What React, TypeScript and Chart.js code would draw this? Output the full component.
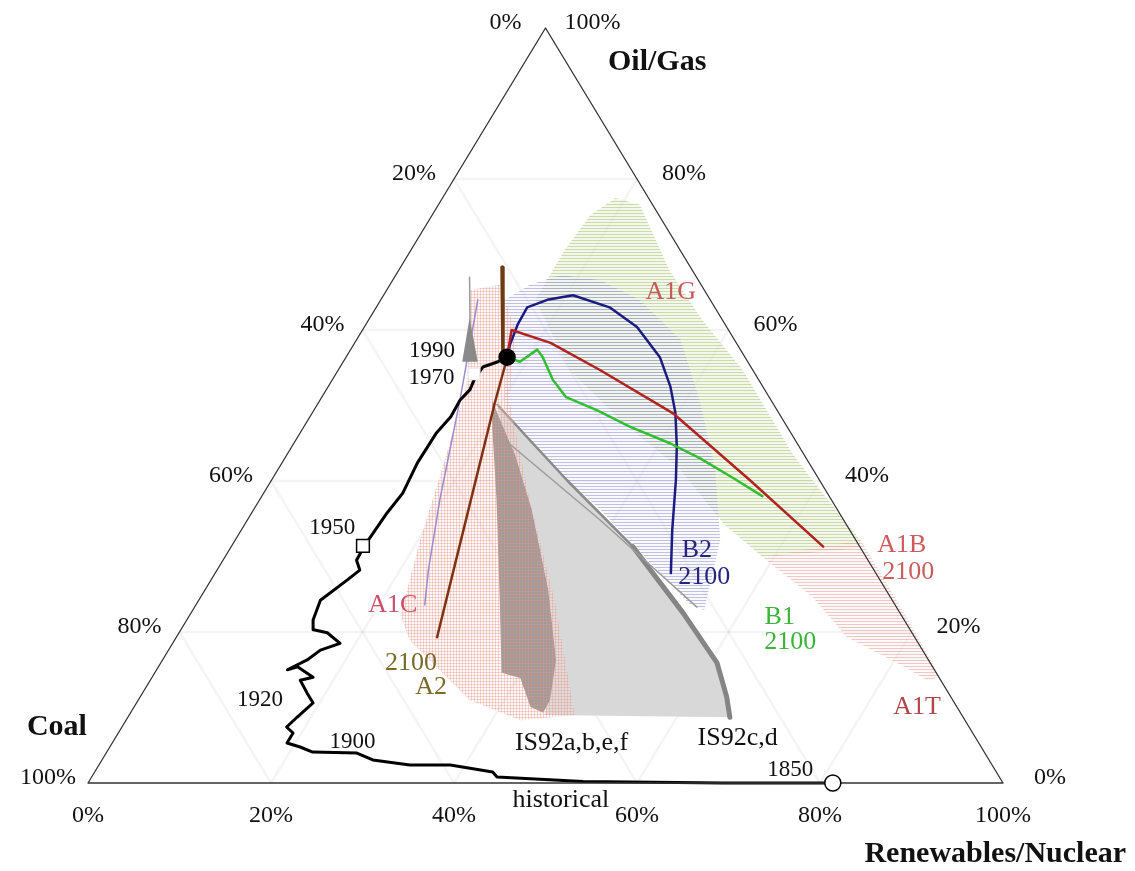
import { useEffect, useRef } from "react";
import { Chart, registerables } from "chart.js";

Chart.register(...registerables);

// Every point is [oil/gas %, renewables/nuclear %]; coal = 100 - both.
type Pair = [number, number];

const axisTicks = [0, 20, 40, 60, 80, 100];
const gridTicks = [20, 40, 60, 80];

const historical: Pair[] = [
  [0, 81.4], [0, 69.4], [0.2, 54.0], [0.8, 44.3], [1.46, 43.5], [2.38, 38.4], [2.38, 34.0],
  [3.05, 29.6], [3.97, 27.4], [4.1, 22.5], [4.77, 20.8], [5.3, 19.1], [6.62, 19.1], [7.42, 18.0],
  [8.74, 18.5], [10.6, 19.3], [11.9, 18.0], [13.6, 16.4], [14.0, 17.6], [15.4, 15.2], [15.0, 14.3],
  [16.3, 15.8], [17.6, 16.6], [18.5, 18.3], [19.9, 16.2], [20.3, 14.5], [21.6, 13.8], [24.2, 13.3],
  [26.9, 14.9], [28.2, 15.6], [29.5, 14.6], [31.3, 14.5], [35.8, 14.8], [38.4, 15.2], [42.4, 14.8],
  [46.4, 14.9], [48.5, 15.4], [50.7, 15.3], [52.1, 15.7], [53.4, 15.5], [55.1, 15.6], [55.8, 16.9],
  [56.4, 17.6],
];
const mark1850: Pair = [0, 81.4];
const mark1950: Pair = [31.4, 14.35];
const mark1970: Pair = [54.2, 15.1];
const mark1990: Pair = [56.4, 17.6];

const a1bPath: Pair[] = [[56.4, 17.6], [60.0, 16.3], [58.3, 21.4], [54.7, 28.6], [49.0, 39.4], [40.1, 52.3], [31.3, 64.7]];
const b2Path: Pair[] = [
  [56.4, 17.6], [58.0, 17.1], [60.7, 16.6], [63.0, 16.5], [64.0, 18.2], [64.6, 20.7], [63.0, 25.5],
  [60.4, 29.8], [56.4, 34.3], [52.5, 37.4], [49.0, 39.7], [44.5, 42.1], [40.1, 44.2], [33.5, 47.1], [27.8, 49.8],
];
const b1Path: Pair[] = [
  [56.4, 17.6], [55.8, 19.3], [57.4, 20.4], [56.4, 21.5], [53.4, 24.1], [51.1, 26.7], [49.4, 30.9],
  [47.2, 35.6], [45.0, 41.1], [43.0, 45.4], [40.4, 50.3], [38.0, 54.7],
];
const a2Path: Pair[] = [[55.4, 17.9], [50.3, 19.3], [33.1, 24.4], [19.3, 28.5]];
const brownStem: Pair[] = [[68.3, 11.1], [56.7, 17.0]];
const grayStem: Pair[] = [[67.0, 8.2], [60.9, 11.3]];
const grayTip: Pair[] = [[55.8, 13.0], [61.6, 10.9], [55.8, 14.7]];
const a1cEdge: Pair[] = [[64.0, 10.6], [50.7, 15.3], [37.5, 19.7], [28.2, 23.1], [23.6, 25.0]];
const is92Thin: Pair[] = [[45.4, 22.9], [34.8, 38.6], [23.3, 54.9]];
const is92EdgeUpper: Pair[] = [[50.1, 19.7], [45.4, 25.6], [40.1, 32.3], [31.3, 43.9]];
const is92EdgeLower: Pair[] = [[31.3, 43.9], [22.5, 53.8], [15.9, 60.8], [11.4, 64.1], [8.7, 65.8]];

const is92cdArea: Pair[] = [
  [50.1, 19.7], [45.4, 25.6], [40.1, 32.3], [31.3, 43.9], [22.5, 53.8], [15.9, 60.8], [11.4, 64.1], [8.7, 65.8],
  [9.0, 45.4], [16.3, 43.0], [25.6, 37.5], [36.2, 30.4], [43.4, 25.0], [48.1, 21.0],
];
const is92abefArea: Pair[] = [
  [50.7, 18.8], [48.1, 21.0], [43.4, 25.0], [36.2, 30.4], [25.6, 37.5], [16.3, 43.0], [11.0, 45.0],
  [9.3, 45.1], [10.1, 43.3], [13.9, 40.3], [14.6, 37.9], [24.2, 32.9], [37.5, 25.9], [46.8, 20.8],
];
const a1gArea: Pair[] = [
  [70.6, 16.8], [75.2, 17.3], [77.5, 18.9], [76.6, 22.0], [67.9, 29.6], [61.3, 36.5], [54.7, 44.2],
  [43.7, 55.1], [38.8, 60.6], [32.2, 68.3], [31.1, 68.8], [29.9, 58.8], [34.4, 52.2], [41.5, 44.0],
  [48.1, 34.1], [54.7, 25.3], [64.0, 16.9],
];
const a1tArea: Pair[] = [
  [32.2, 68.3], [27.8, 72.7], [20.3, 80.1], [14.0, 86.1], [13.6, 84.9], [15.9, 80.5], [19.3, 73.3],
  [24.6, 66.9], [29.9, 58.8],
];
const bArea: Pair[] = [
  [64.0, 13.6], [66.0, 15.3], [67.3, 18.0], [66.6, 22.7], [64.0, 28.3], [58.7, 35.4], [50.7, 41.5],
  [41.5, 47.8], [32.2, 53.0], [22.9, 55.9], [23.6, 54.0], [36.2, 37.9], [43.4, 27.7], [49.4, 20.9],
];
const a2Area: Pair[] = [
  [65.3, 9.1], [66.0, 12.0], [60.0, 16.7], [50.7, 20.7], [37.5, 29.5], [24.2, 38.9], [9.0, 48.7],
  [8.3, 43.1], [11.0, 36.2], [18.9, 25.7], [22.3, 23.0], [32.2, 20.2], [42.8, 17.6], [52.1, 15.2], [58.7, 12.4],
];

const yearLabels: { text: string; at: Pair }[] = [
  { text: "1990", at: [57.2, 9.0] },
  { text: "1970", at: [53.6, 10.75] },
  { text: "1950", at: [33.8, 9.8] },
  { text: "1920", at: [11.0, 13.3] },
  { text: "1900", at: [5.4, 26.2] },
  { text: "1850", at: [1.7, 75.9] },
];
const scenarioLabels: { text: string; at: Pair; color: string }[] = [
  { text: "A1G", at: [65.0, 31.2], color: "#c65a5a" },
  { text: "A1B", at: [31.5, 73.2], color: "#cc5c5c" },
  { text: "2100", at: [27.9, 75.7], color: "#cc5c5c" },
  { text: "B2", at: [30.9, 51.1], color: "#25257e" },
  { text: "2100", at: [27.3, 53.7], color: "#25257e" },
  { text: "B1", at: [22.0, 64.6], color: "#3cb43c" },
  { text: "2100", at: [18.7, 67.4], color: "#3cb43c" },
  { text: "A1T", at: [10.1, 85.55], color: "#b04848" },
  { text: "A1C", at: [23.6, 21.5], color: "#c8506a" },
  { text: "2100", at: [15.9, 27.35], color: "#7a6a2a" },
  { text: "A2", at: [12.7, 31.15], color: "#7a6a2a" },
  { text: "IS92a,b,e,f", at: [5.3, 50.2], color: "#111" },
  { text: "IS92c,d", at: [6.0, 68.0], color: "#111" },
  { text: "historical", at: [-2.25, 52.8], color: "#111" },
];
const titles: { text: string; at: Pair }[] = [
  { text: "Oil/Gas", at: [95.4, 14.5] },
  { text: "Coal", at: [7.4, -7.1] },
  { text: "Renewables/Nuclear", at: [-9.5, 103.9] },
];

const SERIF = '"Liberation Serif", "Times New Roman", serif';
const toXY = (p: Pair) => ({ x: p[1] + p[0] / 2, y: p[0] });

const textPlugin = {
  id: "ternaryText",
  afterDatasetsDraw(chart: any) {
    const { ctx } = chart;
    const sx = chart.scales.x;
    const sy = chart.scales.y;
    const px = (p: Pair): [number, number] => {
      const q = toXY(p);
      return [sx.getPixelForValue(q.x), sy.getPixelForValue(q.y)];
    };
    ctx.save();
    ctx.textAlign = "center";
    ctx.textBaseline = "middle";
    ctx.fillStyle = "#111";
    ctx.font = `24px ${SERIF}`;
    for (const v of axisTicks) {
      let [a, b] = px([0, v]);
      ctx.fillText(`${v}%`, a, b + 33);
      [a, b] = px([100 - v, 0]);
      ctx.fillText(`${v}%`, a - 40, b - 5);
      [a, b] = px([v, 100 - v]);
      ctx.fillText(`${v}%`, a + 47, b - 5);
    }
    ctx.font = `23px ${SERIF}`;
    for (const l of yearLabels) {
      const [a, b] = px(l.at);
      ctx.fillText(l.text, a, b);
    }
    ctx.font = `26px ${SERIF}`;
    for (const l of scenarioLabels) {
      const [a, b] = px(l.at);
      ctx.fillStyle = l.color;
      ctx.fillText(l.text, a, b);
    }
    ctx.fillStyle = "#111";
    ctx.font = `bold 30px ${SERIF}`;
    for (const t of titles) {
      const [a, b] = px(t.at);
      ctx.fillText(t.text, a, b);
    }
    ctx.restore();
  },
};

export default function App() {
  const ref = useRef<HTMLCanvasElement | null>(null);

  useEffect(() => {
    const canvas = ref.current;
    if (!canvas) return;
    const ctx = canvas.getContext("2d")!;

    const hatch = (bg: string, lineCol: string, cross = false) => {
      const c = document.createElement("canvas");
      c.width = 3;
      c.height = 3;
      const g = c.getContext("2d")!;
      g.fillStyle = bg;
      g.fillRect(0, 0, 3, 3);
      g.fillStyle = lineCol;
      g.fillRect(0, 0, 3, 1);
      if (cross) g.fillRect(0, 0, 1, 3);
      return ctx.createPattern(c, "repeat")!;
    };

    const line = (data: Pair[], color: string, width: number, order: number) => ({
      data: data.map(toXY),
      borderColor: color,
      borderWidth: width,
      borderCapStyle: "round",
      borderJoinStyle: "round",
      pointRadius: 0,
      fill: false,
      tension: 0,
      order,
      clip: false as any,
    });
    const poly = (data: Pair[], bg: any, order: number) => ({
      data: [...data, data[0]].map(toXY),
      borderColor: "rgba(0,0,0,0)",
      borderWidth: 0,
      backgroundColor: bg,
      fill: "shape",
      pointRadius: 0,
      tension: 0,
      order,
      clip: false as any,
    });
    const marker = (p: Pair, style: string, radius: number, bg: string, border: string, order: number) => ({
      data: [toXY(p)],
      showLine: false,
      pointStyle: style,
      pointRadius: radius,
      pointBackgroundColor: bg,
      pointBorderColor: border,
      pointBorderWidth: 1.5,
      order,
      clip: false as any,
    });

    const grid: any[] = [];
    for (const v of gridTicks) {
      grid.push(line([[v, 0], [v, 100 - v]], "rgba(0,0,0,0.045)", 2.5, 30));
      grid.push(line([[0, v], [100 - v, v]], "rgba(0,0,0,0.045)", 2.5, 30));
      grid.push(line([[100 - v, 0], [0, 100 - v]], "rgba(0,0,0,0.045)", 2.5, 30));
    }

    const datasets: any[] = [
      marker(mark1990, "circle", 8, "#000", "#000", 0),
      marker(mark1970, "rect", 8, "#fff", "#eeeeee", 0),
      marker(mark1950, "rect", 9, "#fff", "#000", 0),
      marker(mark1850, "circle", 8, "#fff", "#000", 0),
      line([[0, 0], [100, 0], [0, 100], [0, 0]], "#333", 1.3, 1),
      line(historical, "#000", 3, 2),
      line(a1bPath, "#b3221e", 2.5, 3),
      line(b1Path, "#2fc02f", 2.5, 4),
      line(b2Path, "#1b1b82", 2.5, 5),
      line(brownStem, "#6e3a12", 3.5, 6),
      line(a2Path, "#7e3212", 2.5, 7),
      poly(grayTip, "#8a8a8a", 8),
      line(grayStem, "#9a9a9a", 1.5, 9),
      line(a1cEdge, "#9a8ad0", 1.5, 10),
      line(is92Thin, "#9c9c9c", 1.5, 11),
      poly(a2Area, hatch("rgba(250,232,226,0.25)", "rgba(224,150,138,0.38)", true), 12),
      poly(is92abefArea, "#838080", 13),
      line(is92EdgeUpper, "#8a8a8a", 2.5, 14),
      line(is92EdgeLower, "#858585", 5, 14),
      poly(is92cdArea, "#d8d8d8", 15),
      poly(bArea, hatch("rgba(230,230,246,0.25)", "rgba(125,125,190,0.45)"), 16),
      poly(a1tArea, hatch("rgba(250,232,232,0.25)", "rgba(225,150,150,0.5)"), 17),
      poly(a1gArea, hatch("rgba(230,240,212,0.45)", "rgba(168,194,120,0.55)"), 18),
      ...grid,
    ];

    const chart = new Chart(canvas, {
      type: "line",
      data: { datasets },
      options: {
        responsive: false,
        animation: false,
        events: [],
        layout: { padding: { left: 88, right: 132, top: 28, bottom: 88 } },
        scales: {
          x: { type: "linear", min: 0, max: 100, display: false },
          y: { type: "linear", min: 0, max: 100, display: false },
        },
        plugins: { legend: { display: false }, tooltip: { enabled: false } },
      },
      plugins: [textPlugin],
    } as any);

    return () => chart.destroy();
  }, []);

  return (
    <div style={{ position: "absolute", left: 0, top: 0, width: 1135, height: 871, background: "#fff" }}>
      <canvas ref={ref} width={1135} height={871} />
    </div>
  );
}
